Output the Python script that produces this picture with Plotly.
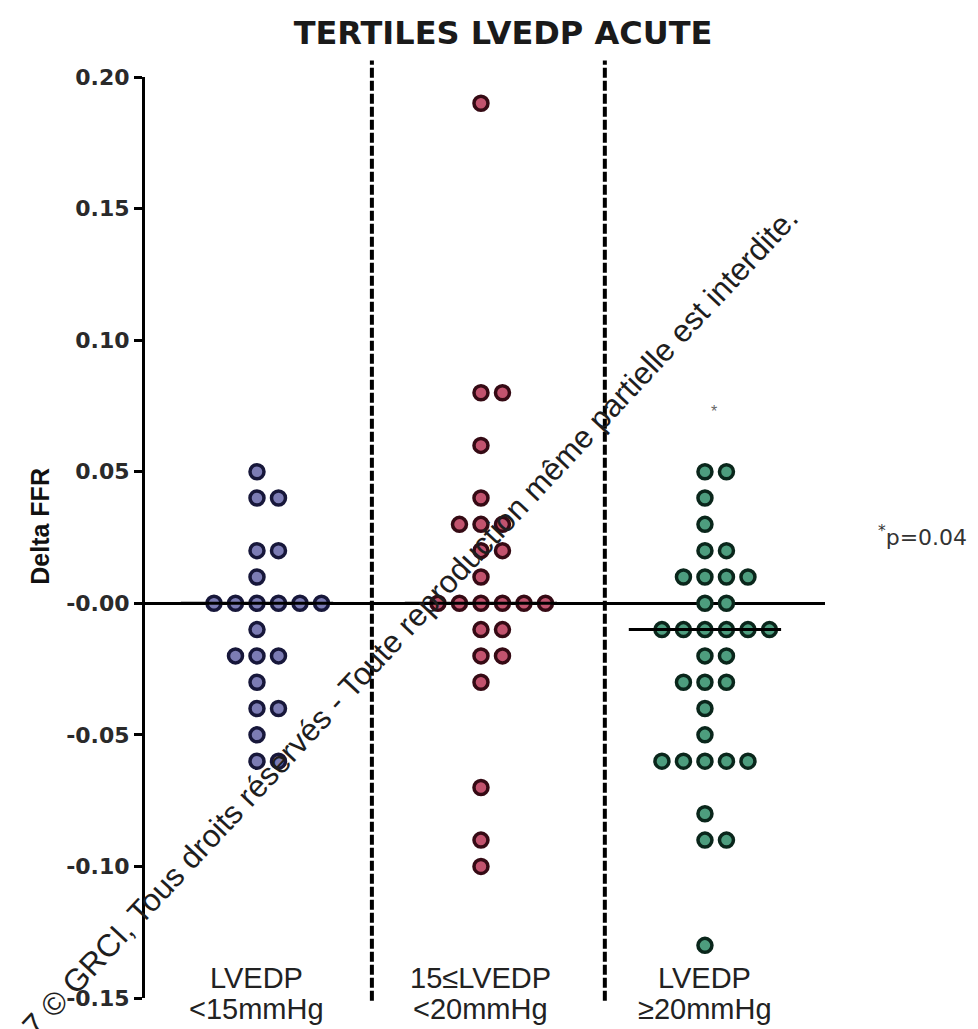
import numpy as np
import plotly.graph_objects as go

# Delta FFR per patient, grouped by acute LVEDP tertile
group_top = ["LVEDP", "15≤LVEDP", "LVEDP"]
group_bottom = ["&lt;15mmHg", "&lt;20mmHg", "≥20mmHg"]

low_tertile = [0.05, 0.04, 0.04, 0.02, 0.02, 0.01,
               0.00, 0.00, 0.00, 0.00, 0.00, 0.00,
               -0.01, -0.02, -0.02, -0.02, -0.03, -0.04, -0.04,
               -0.05, -0.06, -0.06]
mid_tertile = [0.19, 0.08, 0.08, 0.06, 0.04, 0.03, 0.03, 0.03,
               0.02, 0.02, 0.01,
               0.00, 0.00, 0.00, 0.00, 0.00, 0.00,
               -0.01, -0.01, -0.02, -0.02, -0.03, -0.07, -0.09, -0.10]
high_tertile = [0.05, 0.05, 0.04, 0.03, 0.02, 0.02,
                0.01, 0.01, 0.01, 0.01, 0.00, 0.00,
                -0.01, -0.01, -0.01, -0.01, -0.01, -0.01,
                -0.02, -0.02, -0.03, -0.03, -0.03, -0.04, -0.05,
                -0.06, -0.06, -0.06, -0.06, -0.06,
                -0.08, -0.09, -0.09, -0.13]

groups = [low_tertile, mid_tertile, high_tertile]
fills = ["#7c7cb4", "#c2536e", "#4d9d7e"]
edges = ["#17173a", "#350a14", "#0a261b"]

y_ticks = [0.20, 0.15, 0.10, 0.05, 0.00, -0.05, -0.10, -0.15]
y_tick_text = ["0.20", "0.15", "0.10", "0.05", "-0.00", "-0.05", "-0.10", "-0.15"]

p_value_text = "<sup>*</sup>p=0.04"

# scatter-dot layout: equal values are spread sideways center, right, left, ...
STEP = 0.096
ORDER = [0, 1, -1, 2, -2, 3, -3, 4]


def swarm_x(values, center):
    xs = []
    seen = {}
    for v in values:
        key = round(v, 4)
        k = seen.get(key, 0)
        seen[key] = k + 1
        xs.append(center + ORDER[k] * STEP)
    return xs


fig = go.Figure()

for i, vals in enumerate(groups):
    c = i + 1
    fig.add_trace(go.Scatter(
        x=swarm_x(vals, c), y=vals, mode="markers",
        marker=dict(size=14, color=fills[i], line=dict(color=edges[i], width=3.5)),
        cliponaxis=False, showlegend=False, hoverinfo="y",
    ))

# median bars
for i, vals in enumerate(groups):
    c = i + 1
    med = float(np.median(vals))
    fig.add_trace(go.Scatter(
        x=[c - 0.34, c + 0.34], y=[med, med], mode="lines",
        line=dict(color="black", width=3), showlegend=False, hoverinfo="skip",
    ))

# dashed separators between tertiles
for xs in [1.513, 2.553]:
    fig.add_shape(type="line", xref="x", yref="paper", x0=xs, x1=xs, y0=-0.003, y1=1.018,
                  line=dict(color="black", width=4, dash="10px,3px"))

fig.add_annotation(x=3.04, y=0.073, xref="x", yref="y", text="*", showarrow=False,
                   font=dict(family="Liberation Sans", size=16, color="#666666"))

fig.add_annotation(x=1.143, y=0.502, xref="paper", yref="paper", text=p_value_text,
                   showarrow=False, xanchor="center", yanchor="middle",
                   font=dict(family="DejaVu Sans", size=22, color="#333333"))

# category labels under each group
for i in range(3):
    fig.add_annotation(x=i + 1, y=(998 - 978) / 921, xref="x", yref="paper",
                       text=group_top[i], showarrow=False, yanchor="middle",
                       font=dict(family="Liberation Sans", size=29, color="#222222"))
    fig.add_annotation(x=i + 1, y=(998 - 1009) / 921, xref="x", yref="paper",
                       text=group_bottom[i], showarrow=False, yanchor="middle",
                       font=dict(family="Liberation Sans", size=29, color="#222222"))

fig.add_annotation(x=-0.154, y=0.512, xref="paper", yref="paper", text="<b>Delta FFR</b>",
                   showarrow=False, textangle=-90, xanchor="center", yanchor="middle",
                   font=dict(family="Liberation Sans", size=25, color="#111111"))

# copyright line across the plot
fig.add_annotation(x=(392 - 145) / 680, y=(998 - 641) / 921, xref="paper", yref="paper",
                   text="2017 © GRCI, Tous droits réservés - Toute reproduction même partielle est interdite.",
                   showarrow=False, textangle=-47, xanchor="center", yanchor="middle",
                   font=dict(family="Liberation Sans", size=31.5, color="#1e1e1e"))

fig.update_layout(
    width=978, height=1029,
    margin=dict(l=145, r=153, t=77, b=31),
    paper_bgcolor="white", plot_bgcolor="white",
    title=dict(text="<b>TERTILES LVEDP ACUTE</b>", x=503 / 978, xanchor="center",
               y=1 - 33 / 1029, yanchor="middle",
               font=dict(family="DejaVu Sans", size=32, color="#1a1a1a")),
    xaxis=dict(range=[0.5, 3.536], showgrid=False, zeroline=False, showline=False,
               showticklabels=False, ticks=""),
    yaxis=dict(range=[-0.15, 0.20], showgrid=False, zeroline=True, zerolinecolor="black",
               zerolinewidth=2.5, showline=True, linecolor="black", linewidth=3,
               ticks="outside", ticklen=8, tickwidth=2.5, tickcolor="black",
               tickvals=y_ticks, ticktext=["<b>" + t + "</b>" for t in y_tick_text],
               tickfont=dict(family="DejaVu Sans", size=22, color="#2a2a2a"),
               ),
)

fig.write_html("out.html")
